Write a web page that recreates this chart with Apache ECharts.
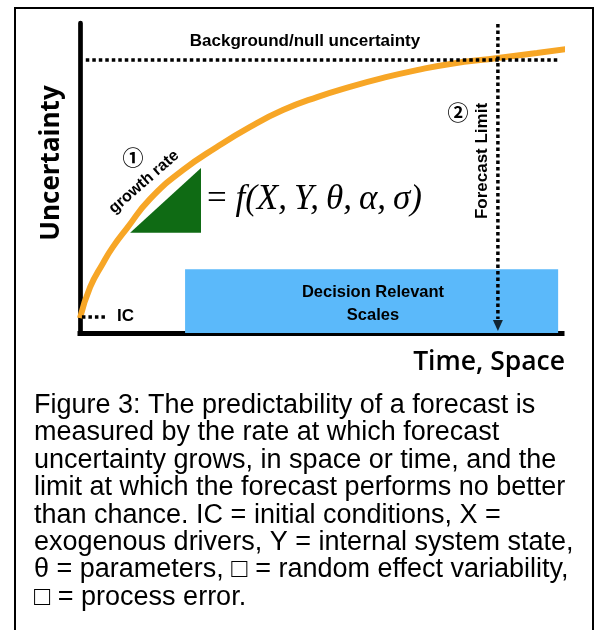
<!DOCTYPE html>
<html>
<head>
<meta charset="utf-8">
<script src="https://cdn.jsdelivr.net/npm/echarts@6/dist/echarts.min.js"></script>
<style>html,body{margin:0;padding:0;background:#fff}#c{width:599px;height:630px}</style>
</head>
<body>
<div id="c"></div>
<script>
// ---- data (axis units: time/space 0-100, uncertainty 0-100) ----
const uncertaintyX = [0, 2.1, 4.8, 6.8, 9.8, 14.5, 21.4, 28.4, 35.3, 42.1, 49.2, 56.0, 62.9, 69.9, 76.8, 86.7, 94.8, 101.0];
const uncertaintyY = [4.8, 14.8, 22.6, 27.7, 33.9, 43.2, 52.6, 60.0, 66.5, 71.9, 76.1, 79.4, 82.3, 84.8, 86.8, 88.7, 90.3, 91.6];
const nullLevel = 88.1;
const nullRange = [1.2, 99.6];
const forecastLimit = 86.7;
const forecastRange = [99.7, 4.5];
const arrowTip = 2.4;
const icLevel = 5.2;
const icRange = [0.4, 5.8];
const decisionX = [21.8, 99.2];
const decisionY = [0, 20.6];
const triangleX = [10.4, 25.1, 25.1];
const triangleY = [32.3, 32.3, 53.2];
const captionLines = [
  'Figure 3: The predictability of a forecast is',
  'measured by the rate at which forecast',
  'uncertainty grows, in space or time, and the',
  'limit at which the forecast performs no better',
  'than chance. IC = initial conditions, X =',
  'exogenous drivers, Y = internal system state,',
  '\u03B8 = parameters, \u25A1 = random effect variability,',
  '\u25A1 = process error.'
];

const chart = echarts.init(document.getElementById('c'), null, {renderer: 'canvas'});

function txt(text, x, y, o) {
  o = o || {};
  return {
    type: 'text', x: x, y: y, rotation: o.rotation || 0, z: 100,
    style: {
      text: text, fill: '#000',
      fontSize: o.size || 16, fontFamily: o.family || 'Liberation Sans',
      fontWeight: o.weight || 'bold', fontStyle: o.style || 'normal',
      align: o.align || 'center', verticalAlign: 'middle',
      textAlign: o.align || 'center', textVerticalAlign: 'middle'
    }
  };
}

const graphics = [
  {type: 'rect', shape: {x: 15, y: 8, width: 578, height: 660}, style: {fill: 'none', stroke: '#000', lineWidth: 2}, z: 100},
  txt('Background/null uncertainty', 305, 41, {size: 17}),
  txt('Uncertainty', 52, 163, {size: 26, family: 'Open Sans', weight: 700, rotation: Math.PI / 2}),
  txt('Time, Space', 565, 362, {size: 26.5, family: 'Open Sans', weight: 600, align: 'right'}),
  txt('IC', 117, 316, {size: 17, align: 'left'}),
  txt('Decision Relevant', 373, 292, {size: 16.5}),
  txt('Scales', 373, 315, {size: 16.5}),
  txt('Forecast Limit', 482, 161, {size: 17, rotation: Math.PI / 2}),
  txt('\u2460', 133, 157, {size: 21, family: 'Noto Sans CJK JP', weight: 'bold'}),
  txt('\u2461', 458, 112, {size: 21, family: 'Noto Sans CJK JP', weight: 'bold'}),
  txt('growth rate', 144, 182, {size: 16, rotation: 41 * Math.PI / 180}),
  {
    type: 'text', x: 207, y: 200, z: 100,
    style: {
      text: '{r|=} {i|f(X,\u2009Y,\u2009\u03B8,\u2009\u03B1,\u2009\u03C3)}',
      fill: '#000', fontSize: 35, fontFamily: 'Liberation Serif',
      align: 'left', verticalAlign: 'middle', textAlign: 'left', textVerticalAlign: 'middle',
      rich: {
        r: {fontSize: 35, fontFamily: 'Liberation Serif', fontStyle: 'normal', fill: '#000'},
        i: {fontSize: 35, fontFamily: 'Liberation Serif', fontStyle: 'italic', fill: '#000'}
      }
    }
  }
];
captionLines.forEach(function (line, k) {
  graphics.push(txt(line, 34, 415 + 27.4 * k - 9.4, {size: 27, weight: 'normal', align: 'left'}));
});

const dotted = {color: '#000', width: 3.5, type: [3.5, 3], cap: 'butt'};

chart.setOption({
  animation: false,
  backgroundColor: '#fff',
  grid: {left: 80, right: 37, top: 23, bottom: 297, containLabel: false},
  xAxis: {
    type: 'value', min: 0, max: 100,
    axisLine: {show: true, onZero: false, lineStyle: {color: '#000', width: 5, cap: 'square'}},
    axisTick: {show: false}, axisLabel: {show: false}, splitLine: {show: false}
  },
  yAxis: {
    type: 'value', min: 0, max: 100,
    axisLine: {show: true, onZero: false, lineStyle: {color: '#000', width: 4.7}},
    axisTick: {show: false}, axisLabel: {show: false}, splitLine: {show: false}
  },
  series: [
    {
      type: 'custom', z: 1, silent: true,
      data: [[decisionX[0], decisionX[1], decisionY[0], decisionY[1]]],
      renderItem: function (params, api) {
        const p0 = api.coord([api.value(0), api.value(3)]);
        const p1 = api.coord([api.value(1), api.value(2)]);
        return {type: 'rect', shape: {x: p0[0], y: p0[1], width: p1[0] - p0[0], height: p1[1] - p0[1]}, style: {fill: '#5bb9fa'}};
      }
    },
    {
      type: 'custom', z: 2, silent: true,
      data: [[0]],
      renderItem: function (params, api) {
        const pts = triangleX.map(function (x, i) { return api.coord([x, triangleY[i]]); });
        return {type: 'polygon', shape: {points: pts}, style: {fill: '#0f6b14'}};
      }
    },
    {
      type: 'line', z: 3, symbol: 'none', smooth: 0.5, clip: false, silent: true,
      data: uncertaintyX.map(function (x, i) { return [x, uncertaintyY[i]]; }),
      lineStyle: {color: '#f7a626', width: 6, cap: 'butt'}
    },
    {
      type: 'line', z: 4, symbol: 'none', silent: true,
      data: [[nullRange[0], nullLevel], [nullRange[1], nullLevel]],
      lineStyle: dotted
    },
    {
      type: 'line', z: 4, symbol: 'none', silent: true,
      data: [[forecastLimit, forecastRange[0]], [forecastLimit, forecastRange[1]]],
      lineStyle: dotted
    },
    {
      type: 'scatter', z: 5, silent: true, symbol: 'triangle', symbolSize: [10, 11], symbolRotate: 180,
      data: [[forecastLimit, arrowTip]],
      itemStyle: {color: '#000'}
    },
    {
      type: 'line', z: 4, symbol: 'none', silent: true,
      data: [[icRange[0], icLevel], [icRange[1], icLevel]],
      lineStyle: dotted
    }
  ],
  graphic: graphics
});
</script>
</body>
</html>
